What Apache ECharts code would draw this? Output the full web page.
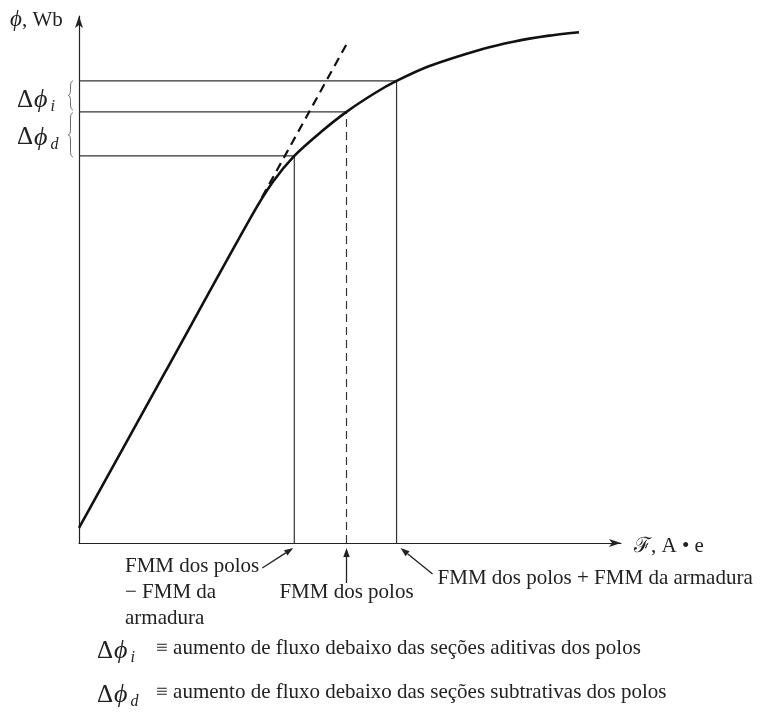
<!DOCTYPE html>
<html>
<head>
<meta charset="utf-8">
<script src="https://cdn.jsdelivr.net/npm/echarts@6.0.0/dist/echarts.min.js"></script>
<style>
html, body { margin: 0; padding: 0; background: #fff; }
#box1 { width: 764px; height: 712px; }
</style>
</head>
<body>
<div id="box1"></div>
<script>
// curva de magnetização (unidades arbitrárias)
var fmm = [0, 1.6, 3.2, 3.6, 4.0, 4.5, 4.97, 5.5, 5.9, 6.5, 7.5, 8.07, 8.7, 9.29];
var fluxo = [0.29, 3.26, 6.23, 6.89, 7.39, 7.85, 8.23, 8.59, 8.82, 9.10, 9.43, 9.57, 9.68, 9.75];
// prolongamento da parte linear (tracejado)
var retaX = [3.4, 4.97];
var retaY = [6.6, 9.52];
// FMM dos polos - armadura, dos polos, dos polos + armadura
var fmmPontos = [4.0, 4.97, 5.9];
var fluxoPontos = [7.39, 8.23, 8.82];
var rotulos = ['FMM dos polos\n− FMM da\narmadura', 'FMM dos polos', 'FMM dos polos + FMM da armadura'];
var subs = ['i', 'd'];
var legenda = ['≡ aumento de fluxo debaixo das seções aditivas dos polos',
               '≡ aumento de fluxo debaixo das seções subtrativas dos polos'];

window.onload = function () {
    var serif = 'Liberation Serif';
    var myChart = echarts.init(document.getElementById('box1'));

    var series = [];
    // linhas-guia (horizontais e verticais)
    for (var k = 0; k < fmmPontos.length; k++) {
        series.push({
            type: 'line', silent: true, showSymbol: false, z: 1,
            data: [[0, fluxoPontos[k]], [fmmPontos[k], fluxoPontos[k]]],
            lineStyle: { color: '#333', width: 1.2 }
        });
        series.push({
            type: 'line', silent: true, showSymbol: false, z: 1,
            data: [[fmmPontos[k], 0], [fmmPontos[k], fluxoPontos[k]]],
            lineStyle: { color: '#333', width: 1.2, type: k === 1 ? [8, 5] : 'solid' }
        });
    }
    series.push({
        type: 'line', silent: true, showSymbol: false, z: 3,
        data: retaX.map(function (x, i) { return [x, retaY[i]]; }),
        lineStyle: { color: '#111', width: 2.2, type: [9, 6] }
    });
    series.push({
        type: 'line', silent: true, showSymbol: false, z: 4, smooth: 0.3,
        data: fmm.map(function (x, i) { return [x, fluxo[i]]; }),
        lineStyle: { color: '#111', width: 2.6 }
    });

    var option = {
        animation: false,
        grid: { left: 79, top: 16, right: 143, bottom: 169 },
        xAxis: {
            type: 'value', min: 0, max: 10.07,
            axisLine: { show: true, symbol: ['none', 'arrow'], symbolSize: [6, 12], lineStyle: { color: '#222', width: 1.2 } },
            axisTick: { show: false }, axisLabel: { show: false }, splitLine: { show: false }
        },
        yAxis: {
            type: 'value', min: 0, max: 10.06,
            axisLine: { show: true, symbol: ['none', 'arrow'], symbolSize: [6, 12], lineStyle: { color: '#222', width: 1.2 } },
            axisTick: { show: false }, axisLabel: { show: false }, splitLine: { show: false }
        },
        series: series
    };
    myChart.setOption(option);

    var p = function (x, y) { return myChart.convertToPixel({ gridIndex: 0 }, [x, y]); };

    function seta(x1, y1, x2, y2) {
        var a = Math.atan2(y2 - y1, x2 - x1), L = 9, W = 3.2;
        var bx = x2 - L * Math.cos(a), by = y2 - L * Math.sin(a);
        return [
            { type: 'line', shape: { x1: x1, y1: y1, x2: bx, y2: by }, style: { stroke: '#222', lineWidth: 1.3 } },
            { type: 'polygon', shape: { points: [[x2, y2], [bx - W * Math.sin(a), by + W * Math.cos(a)], [bx + W * Math.sin(a), by - W * Math.cos(a)]] }, style: { fill: '#222' } }
        ];
    }

    function chave(xr, y1, y2, w) {
        var ym = (y1 + y2) / 2, xm = xr - w / 2, xt = xr - w, r = Math.min(6, (y2 - y1) / 4);
        var pts = [];
        function q(a, b, c, n) {
            for (var i = 0; i <= n; i++) {
                var t = i / n;
                pts.push([(1 - t) * (1 - t) * a[0] + 2 * t * (1 - t) * b[0] + t * t * c[0],
                          (1 - t) * (1 - t) * a[1] + 2 * t * (1 - t) * b[1] + t * t * c[1]]);
            }
        }
        q([xr, y1], [xm, y1], [xm, y1 + r], 6);
        q([xm, ym - r], [xm, ym], [xt, ym], 6);
        q([xt, ym], [xm, ym], [xm, ym + r], 6);
        q([xm, y2 - r], [xm, y2], [xr, y2], 6);
        return { type: 'polyline', shape: { points: pts }, style: { stroke: '#666', lineWidth: 1, fill: null } };
    }

    var rich = {
        n: { fontFamily: serif, fontSize: 21, color: '#222' },
        d: { fontFamily: serif, fontSize: 25, color: '#222' },
        i: { fontFamily: serif, fontSize: 26, fontStyle: 'italic', color: '#222', padding: [0, 0, 0, 1] },
        y: { fontFamily: serif, fontSize: 23, fontStyle: 'italic', color: '#222' },
        s: { fontFamily: serif, fontSize: 16, fontStyle: 'italic', color: '#222', padding: [13, 0, 0, 3] }
    };
    function texto(t, x, y, align) {
        return { type: 'text', style: { text: t, x: x, y: y, align: align || 'left', verticalAlign: 'middle', rich: rich, fontFamily: serif, fontSize: 21, fill: '#222', lineHeight: 26 } };
    }

    var el = [];
    var o = p(0, 0);
    var v = fmmPontos.map(function (x, k) { return p(x, fluxoPontos[k]); });

    // setas e rótulos sob o eixo
    el = el.concat(seta(v[0][0] - 32, o[1] + 25, v[0][0] - 1, o[1] + 5));
    el = el.concat(seta(v[1][0], o[1] + 40, v[1][0], o[1] + 5));
    el = el.concat(seta(v[2][0] + 36, o[1] + 31, v[2][0] + 4, o[1] + 5));
    el.push(texto('{n|' + rotulos[0].split('\n').join('}\n{n|') + '}', 125, o[1] + 49));
    el.push(texto('{n|' + rotulos[1] + '}', v[1][0], o[1] + 49, 'center'));
    el.push(texto('{n|' + rotulos[2] + '}', v[2][0] + 41, o[1] + 35));

    // títulos dos eixos
    el.push(texto('{y|ϕ}{n|, Wb}', 10, 20));
    el.push(texto('{n|ℱ, A • e}', 634, o[1] + 3));

    // Δϕ com chaves
    el.push(chave(73, v[2][1], v[1][1] - 2, 5));
    el.push(chave(73, v[1][1] + 1, v[0][1] + 1, 5));
    el.push(texto('{d|Δ}{i|ϕ}{s|' + subs[0] + '}', 17, (v[2][1] + v[1][1]) / 2 + 4));
    el.push(texto('{d|Δ}{i|ϕ}{s|' + subs[1] + '}', 17, (v[1][1] + v[0][1]) / 2 + 4));

    // legenda
    for (var j = 0; j < legenda.length; j++) {
        el.push(texto('{d|Δ}{i|ϕ}{s|' + subs[j] + '}', 97, 651 + 44 * j));
        el.push(texto('{n|' + legenda[j] + '}', 156, 648 + 44 * j));
    }

    myChart.setOption({ graphic: { elements: el } });

    window.addEventListener('resize', function () {
        myChart.resize();
    });
};
</script>
</body>
</html>
